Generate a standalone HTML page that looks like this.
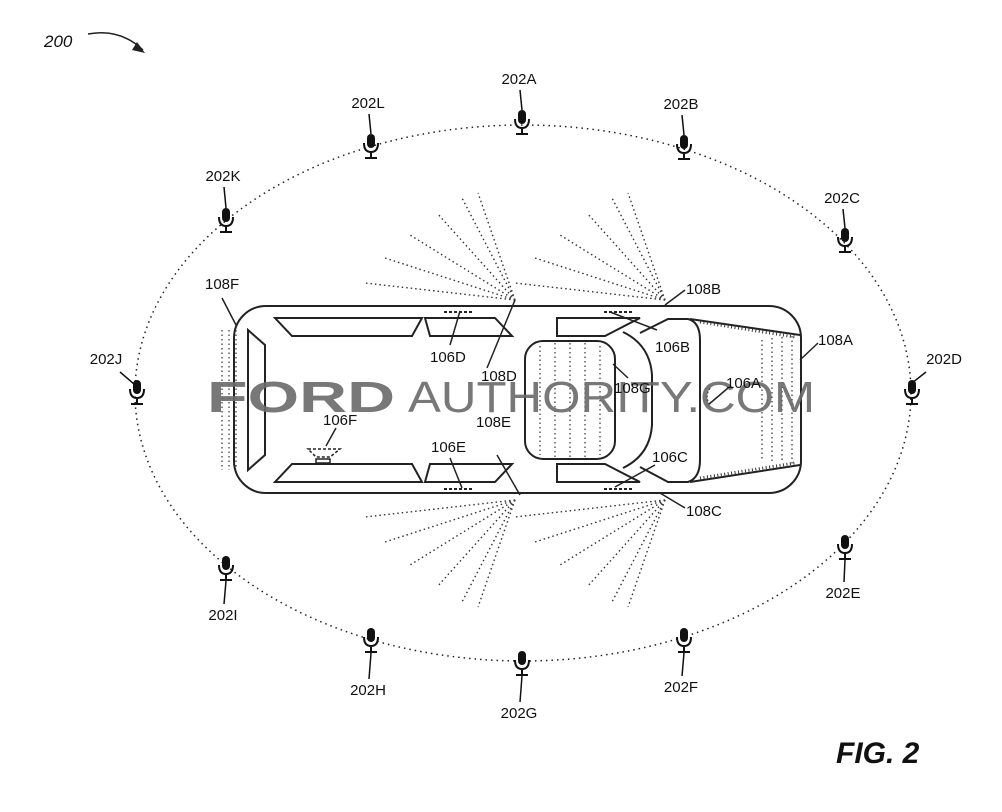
<!DOCTYPE html>
<html><head><meta charset="utf-8"><style>
html,body{margin:0;padding:0;background:#fff}
svg{display:block}
text{font-family:"Liberation Sans",Arial,sans-serif;font-size:15px;fill:#111}
</style></head><body>
<svg id="s" width="1002" height="812" viewBox="0 0 1002 812" xmlns="http://www.w3.org/2000/svg">
<g fill="none" stroke="#222" stroke-width="2">
<ellipse cx="523" cy="393" rx="388" ry="268" stroke-width="1.5" stroke-dasharray="1.5 4"/>
<rect x="234" y="306" width="567" height="187" rx="32"/>
<path d="M248 330 L265 345 L265 455 L248 470 Z"/>
<path d="M275 318 L422 318 L412 336 L292 336 Z"/>
<path d="M425 318 L495 318 L512 336 L430 336 Z"/>
<path d="M557 318 L640 318 L605 336 L557 336 Z"/>
<path d="M292 464 L412 464 L422 482 L275 482 Z"/>
<path d="M430 464 L512 464 L495 482 L425 482 Z"/>
<path d="M557 464 L605 464 L640 482 L557 482 Z"/>
<rect x="525" y="341" width="90" height="118" rx="18"/>
<path d="M623 332 Q650 345 652 375 L652 425 Q650 455 623 468"/>
<path d="M640 333 L668 319 L688 319 Q700 322 700 340 L700 460 Q700 478 688 482 L668 482 L640 467"/>
<path d="M690 319 L800 335"/>
<path d="M690 482 L800 465"/>
</g>
<g stroke="#333" stroke-width="1.2" stroke-dasharray="1.5 3" fill="none">
<path d="M540 346V455M555 343V458M570 343V458M585 343V458M600 346V455"/>
<path d="M222 330V470M229 330V470M236 330V470"/>
<path d="M762 340V460M772 338V462M782 337V463M792 336V464"/>
</g>
<g stroke="#333" stroke-width="3" stroke-dasharray="1 2.5" fill="none">
<path d="M700 322 L795 337"/><path d="M700 478 L795 463"/>
</g>
<g id="rays" stroke="#333" stroke-width="1.4" stroke-dasharray="1.5 3" fill="none"></g>
<g stroke="#222" stroke-width="2" stroke-dasharray="3 2">
<path d="M444 312h30M604 312h30M444 489h30M604 489h30"/>
</g>
<g stroke="#222" stroke-width="1.5" fill="none">
<path d="M308 449 L340 449 L330 457 L316 457 Z" stroke-dasharray="3 2"/>
<path d="M316 459 h14 v4 h-14z"/>
<path d="M326 446 L336 428"/>
</g>
<g stroke="#222" stroke-width="1.5" fill="none">
<path d="M236 325 L222 298"/>
<path d="M665 305 L685 290"/>
<path d="M800 360 L818 343"/>
<path d="M660 493 L685 508"/>
<path d="M450 345 L460 311"/>
<path d="M610 312 L657 330"/>
<path d="M487 368 L515 300"/>
<path d="M520 495 L497 455"/>
<path d="M462 488 L450 458"/>
<path d="M615 487 L655 465"/>
<path d="M613 364 L628 378"/>
<path d="M708 405 L728 388"/>
<path d="M710 388 q-6 8 0 18" stroke-dasharray="2 2"/>
</g>
<g id="mics"></g>
<text x="207" y="412" textLength="188" lengthAdjust="spacingAndGlyphs" style="font-size:44px;font-weight:bold;fill:#6a6a6a;opacity:.9">FORD</text>
<text x="408" y="412" textLength="407" lengthAdjust="spacingAndGlyphs" style="font-size:44px;fill:#6a6a6a;opacity:.9">AUTHORITY.COM</text>
<text x="44" y="47" style="font-style:italic;font-size:17px">200</text>
<path d="M88 34 Q120 28 143 50" stroke="#222" stroke-width="1.5" fill="none"/>
<path d="M137 42 L145 53 L132 50 Z" fill="#222"/>
<text x="836" y="763" style="font-size:30px;font-weight:bold;font-style:italic">FIG. 2</text>
<text x="205" y="289">108F</text>
<text x="686" y="294">108B</text>
<text x="818" y="345">108A</text>
<text x="686" y="516">108C</text>
<text x="430" y="362">106D</text>
<text x="655" y="352">106B</text>
<text x="481" y="381">108D</text>
<text x="614" y="393">108G</text>
<text x="726" y="388">106A</text>
<text x="323" y="425">106F</text>
<text x="476" y="427">108E</text>
<text x="431" y="452">106E</text>
<text x="652" y="462">106C</text>
</svg>
<script>
var NS="http://www.w3.org/2000/svg";
var rays=document.getElementById('rays');
function fan(x,y,dir){
 var ends=[[365,283],[385,258],[410,235],[437,213],[462,198],[478,193]];
 var off=x-515;
 ends.forEach(function(e){
  var ex=e[0]+off, ey=dir>0?e[1]:(800-e[1]);
  var l=document.createElementNS(NS,'line');
  l.setAttribute('x1',x);l.setAttribute('y1',y);l.setAttribute('x2',ex);l.setAttribute('y2',ey);
  rays.appendChild(l);
 });
}
fan(515,300,1);fan(665,300,1);fan(515,500,-1);fan(665,500,-1);
var mics=document.getElementById('mics');
var M=[["202A",522,122,519,78],["202B",684,147,681,103],["202C",845,240,842,197],
["202E",845,547,843,592],["202F",684,640,681,686],["202G",522,663,519,712],["202H",371,640,368,689],
["202I",226,568,223,614],["202K",226,220,223,175],["202L",371,146,368,102]];
var h='';
function mic(x,y){
 h+='<rect x="'+(x-4)+'" y="'+(y-12)+'" width="8" height="14" rx="4" fill="#111"/>';
 h+='<path d="M'+(x-7)+' '+(y-3)+' q0 9 7 9 q7 0 7-9 M'+x+' '+(y+6)+' v6 M'+(x-6)+' '+(y+12)+' h12" stroke="#111" stroke-width="2" fill="none"/>';
}
function ln(a,b,c,d){h+='<line x1="'+a+'" y1="'+b+'" x2="'+c+'" y2="'+d+'" stroke="#111" stroke-width="1.5"/>';}
M.forEach(function(m){
 var x=m[1],y=m[2],lx=m[3],ly=m[4];
 mic(x,y);
 if(ly<y) ln(lx+1,ly+12,x,y-12); else ln(x,y+13,lx+1,ly-10);
 h+='<text x="'+lx+'" y="'+(ly+6)+'" text-anchor="middle">'+m[0]+'</text>';
});
mic(912,392); ln(926,372,912,383); h+='<text x="944" y="364" text-anchor="middle">202D</text>';
mic(137,392); ln(120,372,134,384); h+='<text x="106" y="364" text-anchor="middle">202J</text>';
mics.innerHTML=h;
</script>
</body></html>
